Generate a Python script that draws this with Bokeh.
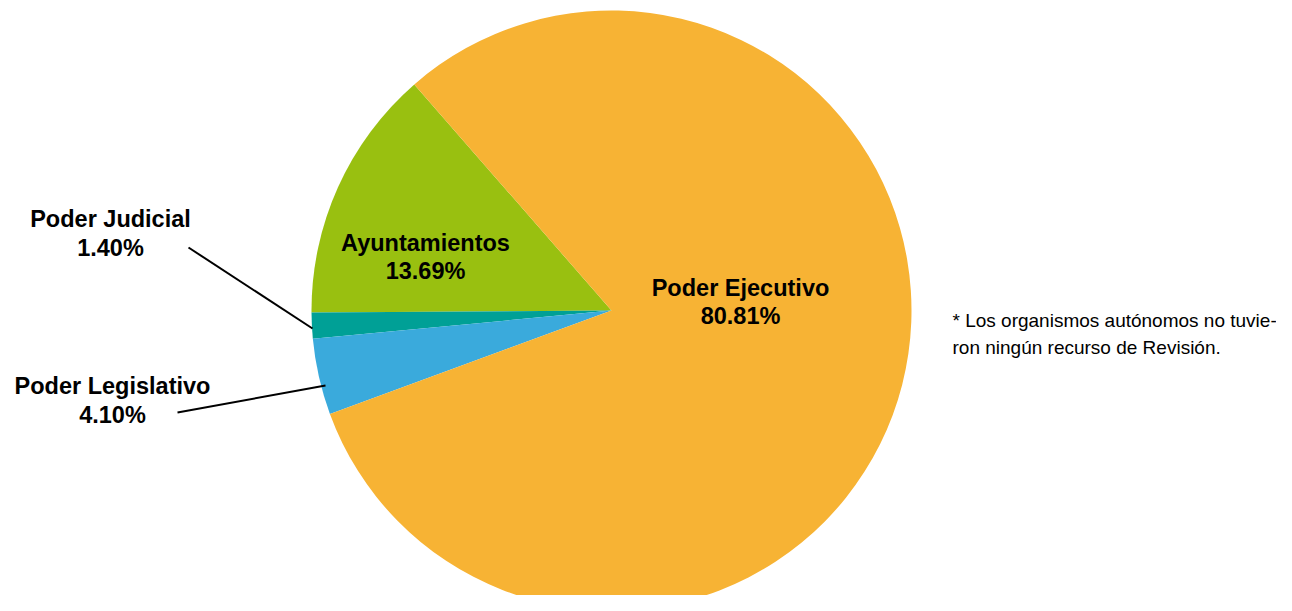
import math
from bokeh.plotting import figure
from bokeh.models import Range1d, ColumnDataSource
from bokeh.core.properties import value
from bokeh.embed import file_html
from bokeh.resources import INLINE

# ---- data ----
categories = ["Ayuntamientos", "Poder Judicial", "Poder Legislativo", "Poder Ejecutivo"]
percentages = [13.69, 1.40, 4.10, 80.81]
colors = ["#99C010", "#00A096", "#3AAADC", "#F7B334"]
note_lines = ["* Los organismos autónomos no tuvie-", "ron ningún recurso de Revisión."]

W, H = 1276, 595
SH = 611  # screen height reference for mapping
TY = 8    # text baseline correction


def sy(y):
    return SH - y


p = figure(width=W, height=H, output_backend="svg", toolbar_location=None,
           x_range=Range1d(0, W), y_range=Range1d(SH - H, SH),
           x_axis_type=None, y_axis_type=None, min_border=0)
p.outline_line_color = None
p.grid.visible = False
p.background_fill_color = "white"
p.border_fill_color = "white"

cx, cy, r = 611, sy(310), 300
start0 = math.radians(131.1)
total = sum(percentages)
starts, ends = [], []
acc = start0
for v in percentages:
    starts.append(acc)
    acc += v / total * 2 * math.pi
    ends.append(acc)

src = ColumnDataSource(dict(start=starts, end=ends, color=colors, cat=categories))
p.wedge(x=cx, y=cy, radius=r, start_angle="start", end_angle="end",
        fill_color="color", line_color=None, source=src)

# leader lines
p.segment(x0=[188, 177], y0=[sy(247), sy(412)], x1=[312, 325], y1=[sy(328), sy(385)],
          line_color="black", line_width=2)

font = value("Liberation Sans")
lab_pos = {
    "Poder Ejecutivo": (740, 295, 323),
    "Ayuntamientos": (425, 250, 278),
    "Poder Judicial": (110, 226, 255),
    "Poder Legislativo": (112, 393, 422),
}
xs, ys, ts = [], [], []
for c, v in zip(categories, percentages):
    x, b1, b2 = lab_pos[c]
    xs += [x, x]
    ys += [sy(b1 - TY), sy(b2 - TY)]
    ts += [c, f"{v:.2f}%"]
p.text(x=xs, y=ys, text=ts, text_font=font, text_font_style="bold",
       text_font_size="23.5px", text_align="center", text_baseline="alphabetic",
       text_color="black")

p.text(x=[952, 952], y=[sy(328 - TY), sy(355 - TY)], text=note_lines, text_font=font,
       text_font_size="19px", text_align="left", text_baseline="alphabetic",
       text_color="black")

open("out.html", "w").write(file_html(p, INLINE))
